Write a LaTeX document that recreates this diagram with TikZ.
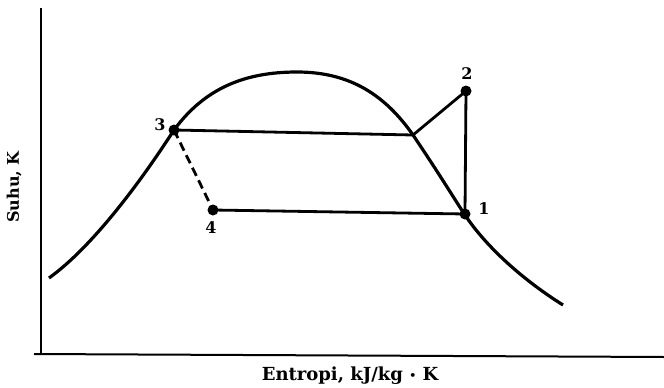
\documentclass[tikz,border=0pt]{standalone}
\usepackage{fontspec}
\setmainfont{DejaVu Serif}
\tikzset{
  state/.style={circle, fill=black, minimum size=11pt, inner sep=0pt},
  cycleline/.style={line width=2.8pt},
  domeline/.style={line width=3.2pt},
  axisline/.style={line width=2pt},
  lbl/.style={font=\fontsize{16}{18}\selectfont\bfseries},
  axlbl/.style={font=\fontsize{18}{20}\selectfont\bfseries}
}

\begin{document}
\begin{tikzpicture}[x=1pt,y=-1pt]
  \useasboundingbox (0,0) rectangle (664,388);
  % axes
  \coordinate (ytop) at (41,8);
  \coordinate (orig) at (41,354);
  \coordinate (xleft) at (34,354);
  \coordinate (xright) at (664,357);
  \draw[axisline] (ytop) -- (orig);
  \draw[axisline] (xleft) -- (xright);
  \node[axlbl] (xlab) at (350,376) {Entropi, kJ/kg {\fontsize{11}{11}\selectfont\raisebox{0.15ex}{•}} K};
  \node[lbl, rotate=90] (ylab) at (14,187) {Suhu, K};

  % saturation dome
  \draw[domeline] (49,278) .. controls (95,245) and (145,175) .. (174,130)
    .. controls (205,88) and (245,72) .. (297,72)
    .. controls (350,72) and (385,95) .. (413,135)
    .. controls (440,175) and (455,200) .. (465,215)
    .. controls (485,245) and (520,278) .. (563,305);

  % cycle points
  \node[state] (s3) at (174,130) {};
  \node[state] (s2) at (466,91) {};
  \node[state] (s1) at (465,214) {};
  \node[state] (s4) at (213,210) {};
  \coordinate (sat) at (413,135);

  \draw[cycleline] (s3.center) -- (sat) -- (s2.center) -- (s1.center) -- (s4.center);
  \draw[cycleline, dash pattern=on 9pt off 5pt] (s3.center) -- (s4.center);

  \node[lbl] (n3) at (160,125) {3};
  \node[lbl] (n2) at (467,74) {2};
  \node[lbl] (n1) at (484,209) {1};
  \node[lbl] (n4) at (211,228) {4};
\end{tikzpicture}
\end{document}
